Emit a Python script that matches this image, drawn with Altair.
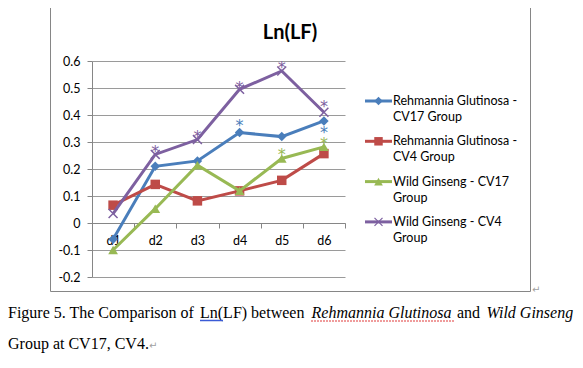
import altair as alt
import pandas as pd

# ---------------- data ----------------
days = ["d1", "d2", "d3", "d4", "d5", "d6"]
series_names = [
    "Rehmannia Glutinosa - CV17 Group",
    "Rehmannia Glutinosa - CV4 Group",
    "Wild Ginseng - CV17 Group",
    "Wild Ginseng - CV4 Group",
]
rg_cv17 = [-0.06, 0.21, 0.23, 0.335, 0.32, 0.378]
rg_cv4 = [0.066, 0.143, 0.082, 0.119, 0.158, 0.257]
wg_cv17 = [-0.10, 0.053, 0.214, 0.119, 0.239, 0.282]
wg_cv4 = [0.035, 0.254, 0.309, 0.495, 0.563, 0.41]

legend_line1 = ["Rehmannia Glutinosa -", "Rehmannia Glutinosa -", "Wild Ginseng - CV17", "Wild Ginseng - CV4"]
legend_line2 = ["CV17 Group", "CV4 Group", "Group", "Group"]

star_series = [series_names[3]] * 5 + [series_names[0]] * 2 + [series_names[2]] * 2
star_days = ["d2", "d3", "d4", "d5", "d6", "d4", "d6", "d5", "d6"]
star_values = [0.276, 0.334, 0.514, 0.589, 0.443, 0.375, 0.348, 0.267, 0.306]

y_ticks = [-0.2, -0.1, 0.0, 0.1, 0.2, 0.3, 0.4, 0.5, 0.6]
chart_title = "Ln(LF)"

caption_texts = ["Figure 5. The Comparison of", "Ln(LF) between", "Rehmannia Glutinosa",
                 "and", "Wild Ginseng", "Group at CV17, CV4."]
caption_italic = [False, False, True, False, True, False]

# ---------------- styles ----------------
colors = ["#4A7EBB", "#BE4B48", "#98B954", "#7D60A0"]
GRAY = "#868686"
GRID = "#9a9a9a"
SANS = "Lato"
X_PATH = "M-1,-1L1,1M-1,1L1,-1"

W, H = 253, 216
OX, OY = 92, 61  # page position of plot origin

def px(xp):
    return xp - OX

def py(yp):
    return yp - OY

values = [rg_cv17, rg_cv4, wg_cv17, wg_cv4]
rows = []
for i, (name, vals) in enumerate(zip(series_names, values)):
    for d, v in zip(days, vals):
        rows.append({"series": name, "idx": i, "day": d, "value": v})
df = pd.DataFrame(rows)
leg_df = pd.DataFrame({"series": series_names, "idx": list(range(4)),
                       "l1": legend_line1, "l2": legend_line2})
star_df = pd.DataFrame({"series": star_series, "day": star_days, "value": star_values})
dummy = pd.DataFrame({"a": [0]})

xscale = alt.Scale(type="band", domain=days, paddingInner=0, paddingOuter=0)
yscale = alt.Scale(domain=[-0.2, 0.6], nice=False, zero=False)
xaxis = alt.Axis(orient="bottom", offset=-54, tickBand="extent", grid=False,
                 domainColor=GRAY, tickColor=GRAY, tickSize=5, labelPadding=6,
                 labelFont=SANS, labelFontSize=12.5, labelColor="black", labelAngle=0,
                 title=None)
yaxis = alt.Axis(values=y_ticks, grid=True, gridColor=GRID, domainColor=GRAY,
                 tickColor=GRAY, tickSize=5, labelPadding=7,
                 labelExpr="datum.value == 0 ? '0' : (datum.value < 0 ? '-' + format(-datum.value, '.1f') : format(datum.value, '.1f'))",
                 labelFont=SANS, labelFontSize=12.5, labelColor="black", title=None)
X = alt.X("day:N", sort=days, scale=xscale, axis=xaxis)
Y = alt.Y("value:Q", scale=yscale, axis=yaxis)
color_scale = alt.Scale(domain=series_names, range=colors)

layers = []
# chart border
layers.append(alt.Chart(dummy).mark_rect(fillOpacity=0, stroke=GRAY, strokeWidth=1).encode(
    x=alt.value(px(50.5)), x2=alt.value(px(530.5)), y=alt.value(py(5.5)), y2=alt.value(py(291.5))))
# title
layers.append(alt.Chart(dummy).mark_text(text=chart_title, font=SANS, fontSize=20, fontWeight="bold",
                                         align="center", baseline="middle", color="black").encode(
    x=alt.value(px(290)), y=alt.value(py(33))))

shapes = ["diamond", "square", "triangle-up", X_PATH]
sizes = [90, 90, 95, 80]
for i, name in enumerate(series_names):
    sub = alt.Chart(df).transform_filter(alt.datum.idx == i)
    layers.append(sub.mark_line(strokeWidth=3, color=colors[i]).encode(x=X, y=Y))
    if i < 3:
        layers.append(sub.mark_point(shape=shapes[i], filled=True, size=sizes[i], color=colors[i],
                                     opacity=1).encode(x=X, y=Y))
    else:
        layers.append(sub.mark_point(shape=X_PATH, filled=False, size=sizes[i], color=colors[i],
                                     strokeWidth=1.5, opacity=1).encode(x=X, y=Y))

# asterisks
layers.append(alt.Chart(star_df).mark_text(text="*", font="DejaVu Sans", fontSize=16, dy=9,
                                           baseline="alphabetic", align="center").encode(
    x=X, y=Y, color=alt.Color("series:N", scale=color_scale, legend=None)))

# legend
for i, name in enumerate(series_names):
    ly = py(101 + 40.3 * i)
    leg = alt.Chart(leg_df).transform_filter(alt.datum.idx == i)
    layers.append(leg.mark_rule(strokeWidth=3, color=colors[i]).encode(
        x=alt.value(px(365)), x2=alt.value(px(392)), y=alt.value(ly)))
    if i < 3:
        layers.append(leg.mark_point(shape=shapes[i], filled=True, size=sizes[i] * 0.8,
                                     color=colors[i], opacity=1).encode(
            x=alt.value(px(378.5)), y=alt.value(ly)))
    else:
        layers.append(leg.mark_point(shape=X_PATH, filled=False, size=sizes[i] * 0.8,
                                     color=colors[i], strokeWidth=1.2, opacity=1).encode(
            x=alt.value(px(378.5)), y=alt.value(ly)))
    layers.append(leg.mark_text(font=SANS, fontSize=12.5, align="left", baseline="middle",
                                color="black").encode(
        x=alt.value(px(393)), y=alt.value(ly), text="l1:N"))
    layers.append(leg.mark_text(font=SANS, fontSize=12.5, align="left", baseline="middle",
                                color="black").encode(
        x=alt.value(px(393)), y=alt.value(ly + 16), text="l2:N"))

# caption
cap_x = [8, 200, 311.5, 457, 486.5, 8]
cap_y = [318, 318, 318, 318, 318, 349]
for t, it, xx, yy in zip(caption_texts, caption_italic, cap_x, cap_y):
    layers.append(alt.Chart(dummy).mark_text(text=t, font="Liberation Serif", fontSize=16,
                                             fontStyle="italic" if it else "normal",
                                             align="left", baseline="alphabetic",
                                             color="black").encode(
        x=alt.value(px(xx)), y=alt.value(py(yy))))
# underline marks of the word processor
layers.append(alt.Chart(dummy).mark_rule(color="#3b5bd6", strokeWidth=1.5).encode(
    x=alt.value(px(200)), x2=alt.value(px(223)), y=alt.value(py(320.5))))
layers.append(alt.Chart(dummy).mark_rule(color="#e03a3a", strokeWidth=1.2, strokeDash=[2, 1]).encode(
    x=alt.value(px(311)), x2=alt.value(px(454)), y=alt.value(py(321))))
# paragraph marks
for xx, yy in [(149, 349), (532, 293)]:
    layers.append(alt.Chart(dummy).mark_text(text="\u21b5", font="DejaVu Sans", fontSize=10,
                                             align="left", baseline="alphabetic",
                                             color="#a0a0a0").encode(
        x=alt.value(px(xx)), y=alt.value(py(yy))))

chart = alt.layer(*layers).properties(
    width=W, height=H,
    padding={"left": OX - 8, "top": OY - 8, "right": 567 - (OX - 8) - W, "bottom": 352 - (OY - 8) - H},
    autosize=alt.AutoSizeParams(type="none"),
    background="white",
).configure_view(strokeWidth=0)

chart.save("out.html", embed_options={"renderer": "svg", "actions": False})
